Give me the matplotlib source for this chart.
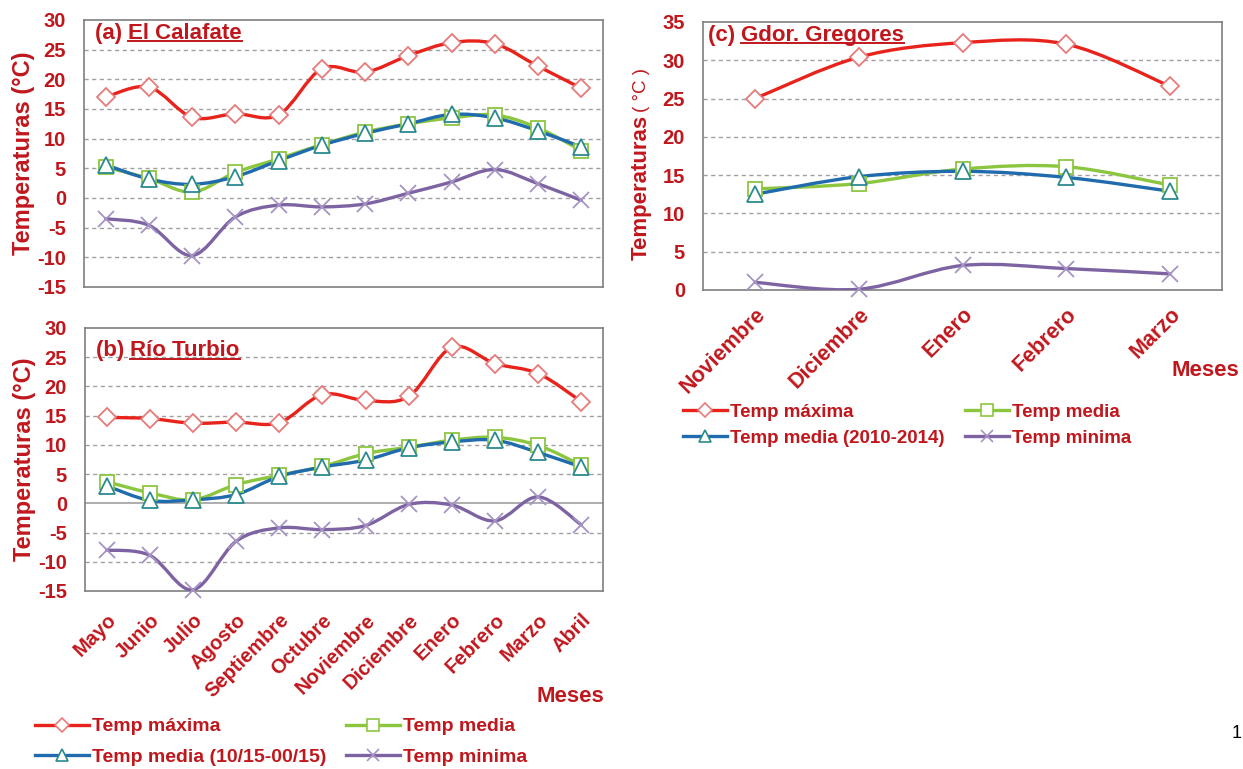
import matplotlib
matplotlib.use("Agg")
import matplotlib.pyplot as plt
import numpy as np
from matplotlib.path import Path
from matplotlib.patches import PathPatch
from matplotlib.lines import Line2D

plt.rcParams['font.family'] = ['Liberation Sans', 'DejaVu Sans']
plt.rcParams['font.weight'] = 'bold'
plt.rcParams['axes.labelweight'] = 'bold'
plt.rcParams['axes.unicode_minus'] = False

meses_ab = ['Mayo', 'Junio', 'Julio', 'Agosto', 'Septiembre', 'Octubre',
            'Noviembre', 'Diciembre', 'Enero', 'Febrero', 'Marzo', 'Abril']
meses_c = ['Noviembre', 'Diciembre', 'Enero', 'Febrero', 'Marzo']

# El Calafate
cal_max = [17.0, 18.7, 13.6, 14.2, 14.0, 21.8, 21.2, 24.0, 26.2, 26.0, 22.2, 18.5]
cal_media = [5.2, 3.3, 1.0, 4.3, 6.6, 9.0, 11.1, 12.5, 13.5, 14.0, 11.8, 8.0]
cal_media_per = [5.6, 3.2, 2.3, 3.6, 6.3, 8.9, 10.9, 12.5, 14.1, 13.5, 11.3, 8.6]
cal_min = [-3.5, -4.6, -9.7, -3.2, -1.2, -1.5, -1.0, 0.8, 2.7, 4.8, 2.4, -0.4]

# Rio Turbio
rt_max = [14.7, 14.5, 13.7, 13.9, 13.8, 18.6, 17.6, 18.3, 26.7, 23.9, 22.2, 17.4]
rt_media = [3.7, 1.8, 0.6, 3.2, 4.8, 6.3, 8.5, 9.6, 10.8, 11.3, 9.9, 6.5]
rt_media_per = [3.0, 0.5, 0.6, 1.5, 4.6, 6.2, 7.4, 9.5, 10.5, 10.8, 8.7, 6.2]
rt_min = [-8.0, -8.9, -14.8, -6.5, -4.2, -4.5, -3.8, -0.2, -0.3, -3.0, 1.1, -3.7]

# Gdor. Gregores
gg_max = [25.0, 30.4, 32.3, 32.1, 26.6]
gg_media = [13.2, 13.9, 15.8, 16.1, 13.7]
gg_media_per = [12.5, 14.8, 15.5, 14.7, 12.9]
gg_min = [1.0, 0.1, 3.2, 2.8, 2.1]

TXT = '#C0171D'
styles = {
    'max': dict(color='#E8231C', marker='D', ms=9, mec='#E87A7A', mfc='white'),
    'media': dict(color='#8CC63F', marker='s', ms=10, mec='#8CC63F', mfc='white'),
    'per': dict(color='#1F6BAE', marker='^', ms=11, mec='#2B8A8F', mfc='white'),
    'min': dict(color='#7E63A3', marker='x', ms=11, mec='#A594C4', mfc='none'),
}


def smooth_line(ax, y, st):
    # Excel-style smoothed line: cubic Bezier through the points
    x = np.arange(len(y), dtype=float)
    y = np.asarray(y, dtype=float)
    pts = np.column_stack([x, y])
    verts = [pts[0]]
    codes = [Path.MOVETO]
    n = len(pts)
    for i in range(n - 1):
        p0 = pts[max(i - 1, 0)]
        p1 = pts[i]
        p2 = pts[i + 1]
        p3 = pts[min(i + 2, n - 1)]
        c1 = p1 + (p2 - p0) / 6.0
        c2 = p2 - (p3 - p1) / 6.0
        verts += [c1, c2, p2]
        codes += [Path.CURVE4] * 3
    ax.add_patch(PathPatch(Path(verts, codes), fill=False, edgecolor=st['color'],
                           lw=2.4, zorder=3, capstyle='round'))
    ax.plot(x, y, ls='none', marker=st['marker'], ms=st['ms'], mec=st['mec'],
            mfc=st['mfc'], mew=1.3, zorder=4, clip_on=False)


def panel(ax, series, ylim, yticks, solid_zero=False):
    for key, vals in series:
        smooth_line(ax, vals, styles[key])
    n = len(series[0][1])
    ax.set_xlim(-0.5, n - 0.5)
    ax.set_ylim(*ylim)
    ax.set_yticks(yticks)
    for v in yticks[1:-1]:
        if solid_zero and v == 0:
            ax.axhline(v, color='#A0A0A0', lw=1.2, zorder=1)
        else:
            ax.axhline(v, color='#A0A0A0', lw=1.0, ls=(0, (3, 2.5)), zorder=1)
    ax.tick_params(axis='y', length=0, labelsize=14.5, labelcolor=TXT, pad=13)
    ax.tick_params(axis='x', length=0)
    for s in ax.spines.values():
        s.set_color('#7F7F7F')
        s.set_linewidth(1.2)


def titulo(ax, letra, nombre, x, y):
    t1 = ax.text(x, y, letra + ' ', transform=ax.transAxes, fontsize=16,
                 color=TXT, va='center', ha='left', zorder=6)
    t2 = ax.annotate(nombre, xy=(1, 0), xycoords=t1, va='bottom', ha='left',
                     fontsize=16, color=TXT, zorder=6)
    return t2


fig = plt.figure(figsize=(12.43, 7.69), dpi=100)
ax_a = fig.add_axes([0.0676, 0.6268, 0.4175, 0.3472])
ax_b = fig.add_axes([0.0684, 0.2315, 0.4167, 0.3420])
ax_c = fig.add_axes([0.5656, 0.6229, 0.4175, 0.3485])

ticks_ab = list(range(-15, 31, 5))
panel(ax_a, [('max', cal_max), ('media', cal_media), ('per', cal_media_per),
             ('min', cal_min)], (-15, 30), ticks_ab)
panel(ax_b, [('max', rt_max), ('media', rt_media), ('per', rt_media_per),
             ('min', rt_min)], (-15, 30), ticks_ab, solid_zero=True)
panel(ax_c, [('max', gg_max), ('media', gg_media), ('per', gg_media_per),
             ('min', gg_min)], (0, 35), list(range(0, 36, 5)))

ax_a.set_xticks(range(len(meses_ab)))
ax_a.set_xticklabels([])
ax_b.set_xticks(range(len(meses_ab)))
ax_b.set_xticklabels(meses_ab, rotation=45, ha='right', rotation_mode='anchor',
                     fontsize=14.5, color=TXT)
ax_c.set_xticks(range(len(meses_c)))
ax_c.set_xticklabels(meses_c, rotation=45, ha='right', rotation_mode='anchor',
                     fontsize=15.5, color=TXT)
ax_b.tick_params(axis='x', pad=14)
ax_c.tick_params(axis='x', pad=10)

for ax in (ax_a, ax_b):
    ax.set_ylabel('Temperaturas (°C)', fontsize=17, color=TXT)
    ax.yaxis.set_label_coords(-0.095, 0.5)

# (c) label with smaller unit
fig.text(641 / 1243, 1 - 260 / 769, 'Temperaturas', rotation=90, fontsize=16,
         color=TXT, ha='center', va='bottom')
fig.text(642 / 1243, 1 - 112 / 769, '( °C )', rotation=90, fontsize=13.5,
         color=TXT, ha='center', va='bottom', fontweight='normal')

names = [titulo(ax_a, '(a)', 'El Calafate', 0.021, 0.951),
         titulo(ax_b, '(b)', 'Río Turbio', 0.021, 0.913),
         titulo(ax_c, '(c)', 'Gdor. Gregores', 0.01, 0.951)]

fig.text(570 / 1243, 1 - 697 / 769, 'Meses', fontsize=16, color=TXT,
         ha='center', va='center')
fig.text(1205 / 1243, 1 - 371 / 769, 'Meses', fontsize=16, color=TXT,
         ha='center', va='center')
fig.text(1237 / 1243, 1 - 733 / 769, '1', fontsize=13, color='black',
         ha='center', va='center', fontweight='normal')


def handle(key):
    st = styles[key]
    return Line2D([], [], color=st['color'], lw=2.4, marker=st['marker'],
                  ms=st['ms'] * 0.8, mec=st['mec'], mfc=st['mfc'], mew=1.2)


order = ['max', 'per', 'media', 'min']
lab_ab = ['Temp máxima', 'Temp media (10/15-00/15)', 'Temp media', 'Temp minima']
lab_c = ['Temp máxima', 'Temp media (2010-2014)', 'Temp media', 'Temp minima']
legs = [
    (lab_ab, (0.0217, 0.0767), 14, 2.8, 0.67, 1.0),
    (lab_c, (0.5435, 0.485), 13.5, 2.35, 0.47, 1.1),
]
for labs, anchor, fs, hl, ls, cs in legs:
    leg = fig.legend([handle(k) for k in order], labs, ncol=2, frameon=False,
                     loc='upper left', bbox_to_anchor=anchor, fontsize=fs,
                     handlelength=hl, handletextpad=0.15, columnspacing=cs,
                     labelspacing=ls, borderaxespad=0)
    for t in leg.get_texts():
        t.set_color(TXT)

# underline the station names
fig.canvas.draw()
r = fig.canvas.get_renderer()
inv = fig.transFigure.inverted()
for t in names:
    bb = t.get_window_extent(r)
    (x0, y0), (x1, _) = inv.transform([[bb.x0, bb.y0], [bb.x1, bb.y1]])
    fig.add_artist(Line2D([x0, x1], [y0 + 0.003, y0 + 0.003], color=TXT,
                          lw=1.4, transform=fig.transFigure))

fig.savefig('out.png', dpi=100)
